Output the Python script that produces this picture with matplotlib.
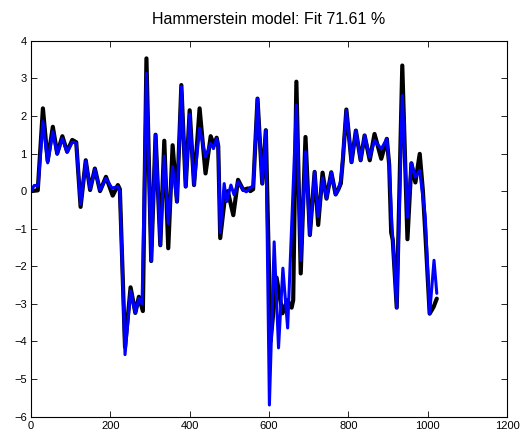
import matplotlib
matplotlib.use("Agg")
import matplotlib.pyplot as plt

title_text = "Hammerstein model: Fit 71.61 %"

measured_x = [0, 17, 30, 42, 55, 66, 79, 91, 104, 114, 125, 138, 149, 161, 174, 189, 206, 219, 224,
              237, 251, 263, 272, 282, 291, 303, 314, 326, 336, 346, 357, 368, 379, 390, 400, 411,
              425, 440, 453, 461, 468, 472, 477, 488, 496, 510, 522, 535, 547, 553, 560, 571, 583,
              592, 604, 619, 634, 646, 657, 661, 669, 680, 692, 703, 715, 724, 735, 745, 757, 768,
              775, 781, 786, 795, 808, 819, 831, 841, 854, 866, 883, 897, 903, 908, 912, 922, 936,
              949, 959, 969, 980, 988, 995, 1005, 1015, 1023]
measured_y = [0.0, 0.02, 2.2, 0.8, 1.71, 1.0, 1.46, 1.05, 1.36, 1.3, -0.42, 0.82, 0.03, 0.6, 0.0,
              0.38, -0.12, 0.16, 0.05, -4.15, -2.56, -3.24, -2.81, -3.19, 3.53, -1.86, 1.5, -1.44,
              1.34, -1.52, 1.22, -0.28, 2.82, 0.12, 2.15, 0.16, 2.2, 0.47, 1.46, 1.22, 1.42, 1.2,
              -1.25, -0.25, 0.0, -0.64, 0.3, 0.03, 0.07, 0.0, 0.05, 2.46, 0.2, 1.62, -4.0, -2.3,
              -3.25, -2.9, -3.1, -2.9, 2.91, -2.19, 1.44, -1.17, 0.51, -0.9, 0.49, -0.2, 0.5,
              -0.09, 0.05, 0.2, 0.8, 2.17, 0.77, 1.61, 0.82, 1.48, 0.82, 1.52, 0.86, 1.39, 0.7,
              -1.1, -1.3, -3.1, 3.34, -1.28, 0.74, 0.23, 0.99, 0.0, -1.3, -3.26, -3.08, -2.86]

model_x = [0, 8, 18, 30, 42, 55, 66, 79, 91, 104, 114, 125, 138, 149, 161, 174, 189, 204, 219, 224,
           237, 251, 263, 272, 280, 291, 303, 314, 326, 336, 346, 357, 368, 379, 390, 400, 411, 425,
           440, 453, 460, 468, 472, 477, 487, 493, 504, 512, 522, 535, 543, 553, 560, 571, 583, 592,
           601, 613, 624, 635, 647, 669, 680, 692, 703, 715, 724, 735, 745, 757, 768, 775, 781, 786,
           795, 808, 819, 831, 841, 854, 866, 883, 897, 903, 909, 922, 936, 949, 959, 969, 980, 994,
           1005, 1016, 1023]
model_y = [0.0, 0.15, 0.15, 1.85, 0.75, 1.58, 0.98, 1.4, 1.03, 1.3, 1.28, -0.35, 0.8, 0.05, 0.58,
           0.02, 0.34, 0.08, 0.12, 0.0, -4.35, -2.65, -3.24, -2.85, -3.0, 3.13, -1.86, 1.5, -1.44,
           0.93, -0.86, 0.65, -0.28, 2.78, 0.12, 2.05, 0.16, 1.67, 0.91, 1.27, 1.13, 1.4, 1.2, -1.1,
           0.2, -0.28, 0.16, -0.1, 0.25, 0.03, -0.02, 0.1, 0.12, 2.46, 0.2, 1.62, -5.69, -1.35,
           -4.17, -2.05, -3.64, 2.29, -1.84, 1.05, -1.17, 0.51, -0.68, 0.35, -0.2, 0.5, -0.09, 0.05,
           0.3, 0.9, 2.15, 0.77, 1.61, 0.82, 1.48, 0.9, 1.35, 1.12, 1.39, 0.7, -0.7, -3.1, 2.54,
           -0.7, 0.74, 0.37, 0.55, -0.7, -3.26, -1.84, -2.72]

x_ticks = [0, 200, 400, 600, 800, 1000, 1200]
y_ticks = [-6, -5, -4, -3, -2, -1, 0, 1, 2, 3, 4]

plt.rcParams['font.family'] = ['Liberation Sans', 'DejaVu Sans']

fig = plt.figure(figsize=(5.31, 4.34), dpi=100)
ax = fig.add_axes([0.0584, 0.0399, 0.8964, 0.8663])

ax.plot(measured_x, measured_y, color='black', linewidth=3.0, solid_joinstyle='round',
        solid_capstyle='round')
ax.plot(model_x, model_y, color=(0, 0, 1), linewidth=2.2, solid_joinstyle='round',
        solid_capstyle='round')

ax.set_xlim(0, 1200)
ax.set_ylim(-6, 4)
ax.set_xticks(x_ticks)
ax.set_yticks(y_ticks)
ax.set_xticklabels([str(v) for v in x_ticks])
ax.set_yticklabels([str(v).replace('-', '\u2212') for v in y_ticks])
ax.tick_params(direction='in', top=True, right=True, length=4, width=0.6, labelsize=8,
               pad=3)
for s in ax.spines.values():
    s.set_linewidth(0.8)
ax.set_title(title_text, fontsize=11.5, pad=12)

fig.savefig('out.png', dpi=100)
